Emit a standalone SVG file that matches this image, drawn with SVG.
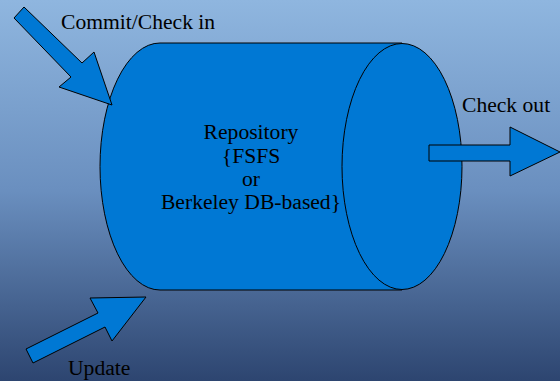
<svg xmlns="http://www.w3.org/2000/svg" width="560" height="381" viewBox="0 0 560 381">
<defs>
<linearGradient id="bg" x1="0" y1="0" x2="0" y2="1">
<stop offset="0" stop-color="#8fb6df"/>
<stop offset="0.5" stop-color="#6a8fbf"/>
<stop offset="1" stop-color="#2d4570"/>
</linearGradient>
</defs>
<style>
.shape{fill:#0078d4;stroke:#000;stroke-width:1}
.lbl{font-family:'Liberation Serif','Times New Roman',serif;font-size:21.6px;fill:#000}
</style>
<rect width="560" height="381" fill="url(#bg)"/>
<g id="repository">
<path class="shape" d="M160,43 L402,43 L402,290 L160,290 A60,123.5 0 0 1 160,43 Z"/>
<ellipse class="shape" cx="402" cy="166.5" rx="60" ry="123"/>
<text class="lbl" text-anchor="middle" x="251" y="139">Repository</text>
<text class="lbl" text-anchor="middle" x="251" y="163">{FSFS</text>
<text class="lbl" text-anchor="middle" x="251" y="186">or</text>
<text class="lbl" text-anchor="middle" x="251" y="209">Berkeley DB-based}</text>
</g>
<g id="connectors">
<g id="commit">
<polygon class="shape" points="14,18 24,7 82,63 94,52 112,105 59,87 71,77"/>
<text class="lbl" x="61" y="29">Commit/Check in</text>
</g>
<g id="checkout">
<polygon class="shape" points="429,145 510,145 510,127 560,152 510,176 510,161 429,161"/>
<text class="lbl" x="462" y="112">Check out</text>
</g>
<g id="update">
<polygon class="shape" points="26,349 98,313 90,298 146,297 112,341 105,327 33,363"/>
<text class="lbl" x="68" y="375">Update</text>
</g>
</g>
</svg>
